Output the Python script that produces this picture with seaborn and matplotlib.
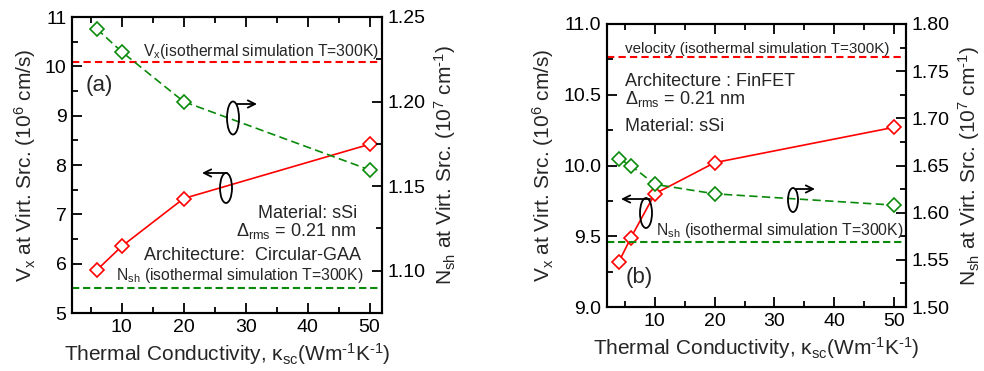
import matplotlib
matplotlib.use("Agg")
import matplotlib.pyplot as plt
import numpy as np
import pandas as pd
import seaborn as sns
from matplotlib.patches import Ellipse, FancyArrowPatch
from matplotlib.ticker import MultipleLocator, FormatStrFormatter

# Panel (a): Circular-GAA nanowire
kappa_a = [6, 10, 20, 50]
vx_a = [5.87, 6.35, 7.32, 8.42]
nsh_a = [1.243, 1.2295, 1.200, 1.1596]
vx_iso_a = 10.08
nsh_iso_a = 1.090

# Panel (b): FinFET
kappa_b = [4, 6, 10, 20, 50]
vx_b = [9.32, 9.49, 9.80, 10.02, 10.27]
nsh_b = [1.657, 1.650, 1.630, 1.620, 1.608]
vx_iso_b = 10.77
nsh_iso_b = 1.569

sns.set_theme(style="ticks")
plt.rcParams["font.family"] = ["Liberation Sans", "DejaVu Sans"]
plt.rcParams["mathtext.fontset"] = "custom"
plt.rcParams["mathtext.rm"] = "Liberation Sans"
plt.rcParams["mathtext.it"] = "Liberation Sans"
plt.rcParams["mathtext.default"] = "regular"
plt.rcParams["axes.linewidth"] = 1.5

RED = "#ff0000"
GREEN = "#0a8a0a"
HY = "\u2010"  # short hyphen for exponents

XLABEL = "Thermal Conductivity, κ$_{sc}$(Wm$^{" + HY + "1}$K$^{" + HY + "1}$)"
VLABEL = r"V$_x$ at Virt. Src. (10$^6$ cm/s)"
NLABEL = "N$_{sh}$ at Virt. Src. (10$^7$ cm$^{" + HY + "1}$)"

W, H = 984, 371
fig = plt.figure(figsize=(W / 100, H / 100), dpi=100)


def px(x, y):
    return (x / W, 1 - y / H)


def make_axes(left, top, right, bottom):
    return fig.add_axes([left / W, 1 - bottom / H, (right - left) / W, (bottom - top) / H])


def style_axes(ax, ax2):
    for a in (ax, ax2):
        for s in a.spines.values():
            s.set_linewidth(1.5)
            s.set_color("black")
    ax.tick_params(axis="both", which="both", direction="in", top=True, right=False,
                   labelsize=14, width=1.3, colors="black", pad=4)
    ax.tick_params(which="major", length=7.5)
    ax.tick_params(which="minor", length=4)
    ax2.tick_params(axis="y", which="both", direction="in", right=True, left=False,
                    labelsize=14, width=1.3, colors="black", pad=4)
    ax2.tick_params(which="major", length=7.5)
    ax2.tick_params(which="minor", length=4)
    ax.set_xlim(2, 52)
    ax.xaxis.set_major_locator(MultipleLocator(10))
    ax.xaxis.set_minor_locator(MultipleLocator(5))
    ax.set_xlabel(XLABEL, fontsize=15, labelpad=4)


def draw_series(ax, ax2, kappa, vx, nsh, vx_iso, nsh_iso):
    df_v = pd.DataFrame({"kappa": kappa, "vx": vx})
    df_n = pd.DataFrame({"kappa": kappa, "nsh": nsh})
    ax.axhline(vx_iso, color=RED, lw=1.5, linestyle=(0, (3.5, 2.0)))
    ax2.axhline(nsh_iso, color=GREEN, lw=1.5, linestyle=(0, (3.5, 1.8)))
    sns.lineplot(data=df_v, x="kappa", y="vx", ax=ax, color=RED, lw=1.2,
                 marker="D", ms=7, mfc="white", mec=RED, mew=1.2, legend=False)
    sns.lineplot(data=df_n, x="kappa", y="nsh", ax=ax2, color=GREEN, lw=1.2,
                 linestyle=(0, (5, 2.6)),
                 marker="D", ms=7, mfc="white", mec=GREEN, mew=1.2, legend=False)


def axis_marker(cx, cy, w, h, start, end):
    fig.patches.append(Ellipse(px(cx, cy), w / W, h / H, transform=fig.transFigure,
                               fill=False, ec="black", lw=1.3))
    fig.patches.append(FancyArrowPatch(px(*start), px(*end), transform=fig.transFigure,
                                       arrowstyle="->", mutation_scale=13, lw=1.3,
                                       color="black", shrinkA=0, shrinkB=0))


# ---------------- Panel (a) ----------------
axa = make_axes(72, 17, 382, 313)
axa2 = axa.twinx()
style_axes(axa, axa2)
draw_series(axa, axa2, kappa_a, vx_a, nsh_a, vx_iso_a, nsh_iso_a)
axa.set_ylim(5, 11)
axa.yaxis.set_major_locator(MultipleLocator(1))
axa.yaxis.set_minor_locator(MultipleLocator(0.5))
axa2.set_ylim(1.075, 1.25)
axa2.yaxis.set_major_locator(MultipleLocator(0.05))
axa2.yaxis.set_minor_locator(MultipleLocator(0.025))
axa2.yaxis.set_major_formatter(FormatStrFormatter("%.2f"))
axa.set_ylabel(VLABEL, fontsize=15, labelpad=5)
axa2.set_ylabel(NLABEL, fontsize=15, labelpad=5)

fig.text(*px(379, 56), r"V$_x$(isothermal simulation T=300K)", fontsize=11.3, ha="right", va="baseline")
fig.text(*px(86, 91), "(a)", fontsize=16, ha="left", va="baseline")
fig.text(*px(357, 218), "Material: sSi", fontsize=13, ha="right", va="baseline")
fig.text(*px(356, 236), r"Δ$_{rms}$ = 0.21 nm", fontsize=13, ha="right", va="baseline")
fig.text(*px(361, 260), "Architecture:  Circular-GAA", fontsize=13, ha="right", va="baseline")
fig.text(*px(363, 280), r"N$_{sh}$ (isothermal simulation T=300K)", fontsize=11.3, ha="right", va="baseline")

axis_marker(233, 118, 12, 33, (237, 104), (257, 104))
axis_marker(226, 188, 12, 30, (227, 173), (202, 173))

# ---------------- Panel (b) ----------------
axb = make_axes(607, 24, 906, 307)
axb2 = axb.twinx()
style_axes(axb, axb2)
draw_series(axb, axb2, kappa_b, vx_b, nsh_b, vx_iso_b, nsh_iso_b)
axb.set_ylim(9.0, 11.0)
axb.yaxis.set_major_locator(MultipleLocator(0.5))
axb.yaxis.set_minor_locator(MultipleLocator(0.25))
axb.yaxis.set_major_formatter(FormatStrFormatter("%.1f"))
axb2.set_ylim(1.50, 1.80)
axb2.yaxis.set_major_locator(MultipleLocator(0.05))
axb2.yaxis.set_minor_locator(MultipleLocator(0.025))
axb2.yaxis.set_major_formatter(FormatStrFormatter("%.2f"))
axb.set_ylabel(VLABEL, fontsize=15, labelpad=5)
axb2.set_ylabel(NLABEL, fontsize=15, labelpad=5)

fig.text(*px(625, 53), "velocity (isothermal simulation T=300K)", fontsize=10.9, ha="left", va="baseline")
fig.text(*px(625, 86), "Architecture : FinFET", fontsize=13, ha="left", va="baseline")
fig.text(*px(625, 104), r"Δ$_{rms}$ = 0.21 nm", fontsize=13, ha="left", va="baseline")
fig.text(*px(625, 131), "Material: sSi", fontsize=13, ha="left", va="baseline")
fig.text(*px(656, 235), r"N$_{sh}$ (isothermal simulation T=300K)", fontsize=11.3, ha="left", va="baseline")
fig.text(*px(626, 283), "(b)", fontsize=16, ha="left", va="baseline")

axis_marker(646, 213, 12, 30, (650, 199), (621, 199))
axis_marker(793, 200, 10, 24, (796, 189), (815, 189))

fig.savefig("out.png", dpi=100, facecolor="white")
